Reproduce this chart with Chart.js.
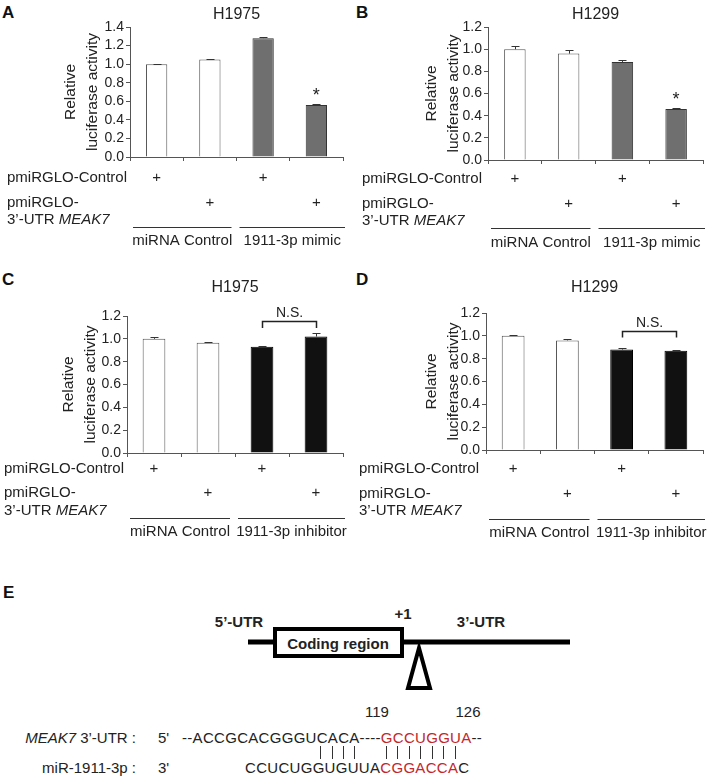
<!DOCTYPE html>
<html>
<head>
<meta charset="utf-8">
<script src="https://cdn.jsdelivr.net/npm/chart.js@4.4.1/dist/chart.umd.min.js"></script>
<style>
  html, body { margin: 0; padding: 0; background: #fff; }
  body { position: relative; width: 713px; height: 778px; overflow: hidden;
         font-family: "Liberation Sans", Arial, Helvetica, sans-serif; color: #222; }
  canvas { position: absolute; }
  .t { position: absolute; white-space: nowrap; line-height: 1; font-size: 15px; transform: translateY(-50%); }
  .c { transform: translate(-50%, -50%); }
  .r { transform: translate(-100%, -50%); }
  .b { font-weight: bold; }
  .letter { font-size: 17px; font-weight: bold; color: #111; }
  .red { color: #c3262b; }
  svg { position: absolute; left: 0; top: 0; }
</style>
</head>
<body>

<div class="t letter" style="left:2px; top:12px;">A</div>
<div class="t letter" style="left:356px; top:12px;">B</div>
<div class="t letter" style="left:2px; top:279px;">C</div>
<div class="t letter" style="left:356px; top:279px;">D</div>
<div class="t letter" style="left:3px; top:592px;">E</div>

<!-- panel E: gene diagram -->
<svg width="713" height="778">
  <line x1="248" y1="642" x2="570" y2="642" stroke="#000" stroke-width="5"/>
  <rect x="275" y="629" width="127" height="27" fill="#fff" stroke="#000" stroke-width="4"/>
  <polygon points="419,648 408,688 430,688" fill="#fff" stroke="#000" stroke-width="4" stroke-linejoin="miter"/>
  <g stroke="#333" stroke-width="1">
    <line x1="320.5" y1="746" x2="320.5" y2="759"/>
    <line x1="332.5" y1="746" x2="332.5" y2="759"/>
    <line x1="343.5" y1="746" x2="343.5" y2="759"/>
    <line x1="354.5" y1="746" x2="354.5" y2="759"/>
    <line x1="386.5" y1="746" x2="386.5" y2="759"/>
    <line x1="397.5" y1="746" x2="397.5" y2="759"/>
    <line x1="409.5" y1="746" x2="409.5" y2="759"/>
    <line x1="420.5" y1="746" x2="420.5" y2="759"/>
    <line x1="432.5" y1="746" x2="432.5" y2="759"/>
    <line x1="443.5" y1="746" x2="443.5" y2="759"/>
    <line x1="455.5" y1="746" x2="455.5" y2="759"/>
  </g>
</svg>
<div class="t c b" style="left:239px; top:621px;">5’-UTR</div>
<div class="t c b" style="left:403px; top:613px;">+1</div>
<div class="t c b" style="left:481px; top:621px;">3’-UTR</div>
<div class="t c b" style="left:338px; top:643px;">Coding region</div>
<div class="t c" style="left:377px; top:711px;">119</div>
<div class="t c" style="left:468px; top:711px;">126</div>
<div class="t r" style="left:136px; top:737px;"><i>MEAK7</i> 3’-UTR :</div>
<div class="t" style="left:158px; top:737px;">5'</div>
<div class="t" style="left:182px; top:737px; letter-spacing:0.3px;">--ACCGCACGGGUCACA----<span class="red">GCCUGGUA</span>--</div>
<div class="t r" style="left:136px; top:767px;">miR-1911-3p :</div>
<div class="t" style="left:158px; top:767px;">3'</div>
<div class="t" style="left:245px; top:767px; letter-spacing:0.3px;">CCUCUGGUGUUA<span class="red">CGGACCA</span>C</div>

<script>
// ---- data ----
const categories = ['1', '2', '3', '4'];
const controlPlus = [true, false, true, false];   // pmiRGLO-Control row
const utrPlus = [false, true, false, true];       // pmiRGLO-3'-UTR MEAK7 row
const mimicGroups = ['miRNA Control', '1911-3p mimic'];
const inhibitorGroups = ['miRNA Control', '1911-3p inhibitor'];

const h1975Mimic = [1.00, 1.05, 1.28, 0.56];
const h1975MimicErr = [0.004, 0.003, 0.01, 0.007];
const h1299Mimic = [1.00, 0.96, 0.885, 0.46];
const h1299MimicErr = [0.03, 0.03, 0.015, 0.005];
const h1975Inhib = [1.00, 0.965, 0.93, 1.02];
const h1975InhibErr = [0.02, 0.005, 0.005, 0.03];
const h1299Inhib = [1.00, 0.96, 0.88, 0.87];
const h1299InhibErr = [0.004, 0.008, 0.015, 0.01];

const yTitle = ['Relative', 'luciferase activity'];

const FONT = '"Liberation Sans", Arial, Helvetica, sans-serif';
Chart.defaults.font.family = FONT;
Chart.defaults.color = '#222';

// error bars, stars, brackets and the +/group rows under each chart
const annotPlugin = {
  id: 'annot',
  afterDraw(chart, args, o) {
    const ctx = chart.ctx;
    const area = chart.chartArea;
    const ys = chart.scales.y;
    const bars = chart.getDatasetMeta(0).data;
    const vals = chart.data.datasets[0].data;
    const ry = v => v - o.top;
    const rx = v => v - o.left;
    ctx.save();

    ctx.strokeStyle = '#333';
    ctx.lineWidth = 1;
    vals.forEach((v, i) => {
      const cx = Math.round(bars[i].x) + 0.5;
      const yTop = Math.round(ys.getPixelForValue(v + o.errors[i])) + 0.5;
      ctx.beginPath();
      ctx.moveTo(cx, ys.getPixelForValue(v));
      ctx.lineTo(cx, yTop);
      ctx.moveTo(cx - 4, yTop);
      ctx.lineTo(cx + 4, yTop);
      ctx.stroke();
    });

    ctx.fillStyle = '#222';
    if (o.star != null) {
      const i = o.star;
      ctx.font = '18px ' + FONT;
      ctx.textAlign = 'center';
      ctx.textBaseline = 'alphabetic';
      ctx.fillText('*', bars[i].x, ys.getPixelForValue(vals[i] + o.errors[i]) - 3);
    }
    if (o.bracket) {
      const bk = o.bracket;
      const x1 = Math.round(bars[bk.from].x) + 0.5;
      const x2 = Math.round(bars[bk.to].x) + 0.5;
      const yb = Math.round(ys.getPixelForValue(bk.y)) + 0.5;
      const yt = ys.getPixelForValue(bk.tick);
      ctx.strokeStyle = '#222';
      ctx.lineWidth = 1.5;
      ctx.beginPath();
      ctx.moveTo(x1, yt); ctx.lineTo(x1, yb); ctx.lineTo(x2, yb); ctx.lineTo(x2, yt);
      ctx.stroke();
      ctx.font = '14px ' + FONT;
      ctx.textAlign = 'center';
      ctx.textBaseline = 'middle';
      ctx.fillText(bk.text, (x1 + x2) / 2, yb - 8);
    }

    // + rows
    ctx.font = '15px ' + FONT;
    ctx.textAlign = 'center';
    ctx.textBaseline = 'middle';
    controlPlus.forEach((p, i) => { if (p) ctx.fillText('+', bars[i].x, ry(o.rows.plus1)); });
    utrPlus.forEach((p, i) => { if (p) ctx.fillText('+', bars[i].x, ry(o.rows.plus2)); });

    // row labels
    ctx.textAlign = 'left';
    ctx.fillText('pmiRGLO-Control', rx(o.labelX), ry(o.rows.plus1));
    ctx.fillText('pmiRGLO-', rx(o.labelX), ry(o.rows.plus2));
    const pre = '3’-UTR ';
    ctx.fillText(pre, rx(o.labelX), ry(o.rows.utr));
    const w = ctx.measureText(pre).width;
    ctx.font = 'italic 15px ' + FONT;
    ctx.fillText('MEAK7', rx(o.labelX) + w, ry(o.rows.utr));

    // group lines + labels
    const mid = (bars[1].x + bars[2].x) / 2;
    const segs = [[area.left + 3, mid - 5], [mid + 3, area.right + 2]];
    const ly = Math.round(ry(o.rows.line)) + 0.5;
    ctx.strokeStyle = '#333';
    ctx.lineWidth = 1.2;
    ctx.font = '15px ' + FONT;
    ctx.textAlign = 'center';
    segs.forEach((s, k) => {
      ctx.beginPath();
      ctx.moveTo(s[0], ly); ctx.lineTo(s[1], ly);
      ctx.stroke();
      ctx.fillText(o.groups[k], (s[0] + s[1]) / 2, ry(o.rows.group));
    });
    ctx.restore();
  }
};

function makePanel(p) {
  const cv = document.createElement('canvas');
  cv.width = p.w;
  cv.height = p.h;
  cv.style.left = p.x + 'px';
  cv.style.top = p.y + 'px';
  document.body.appendChild(cv);

  const titleLH = 15.5 * 1.4;
  const yTitleLeft = p.relX - titleLH / 2;

  new Chart(cv, {
    type: 'bar',
    data: {
      labels: categories,
      datasets: [{
        data: p.values,
        backgroundColor: p.fills,
        borderColor: p.borders,
        borderWidth: 1,
        barPercentage: p.barPct,
        categoryPercentage: 1
      }]
    },
    options: {
      responsive: false,
      animation: false,
      layout: { padding: { left: yTitleLeft - p.x, right: p.x + p.w - p.plot.r, top: 0, bottom: 0 } },
      plugins: {
        legend: { display: false },
        tooltip: { enabled: false },
        title: {
          display: true, text: p.title, fullSize: false, color: '#222',
          font: { size: 16, weight: 'normal', lineHeight: 1.2 },
          padding: { top: p.titleY - p.y - 9.6, bottom: p.plot.t - p.titleY - 9.6 }
        },
        annot: {
          left: p.x, top: p.y, errors: p.errors, star: p.star, bracket: p.bracket,
          rows: p.rows, labelX: p.labelX, groups: p.groups
        }
      },
      scales: {
        x: {
          ticks: { display: false },
          grid: { display: true, drawOnChartArea: false, drawTicks: true, tickLength: 4, color: '#555', offset: true },
          border: { display: true, color: '#555' },
          afterFit: s => { s.height = p.y + p.h - p.plot.b; }
        },
        y: {
          min: 0, max: p.yMax,
          ticks: { stepSize: 0.2, autoSkip: false, callback: v => v.toFixed(1), font: { size: 14 }, color: '#222', padding: 2 },
          grid: { drawOnChartArea: false, drawTicks: true, tickLength: 4, color: '#555' },
          border: { display: true, color: '#555' },
          title: { display: true, text: yTitle, color: '#222', padding: 0, font: { size: 15.5, lineHeight: 1.4 } },
          afterFit: s => { s.width = p.plot.l - yTitleLeft; }
        }
      }
    },
    plugins: [annotPlugin]
  });
}

const whiteFill = '#ffffff', greyFill = '#6f6f6f', blackFill = '#111111';

makePanel({
  x: 0, y: 0, w: 356, h: 252, plot: { l: 130, r: 343, t: 27, b: 157 }, titleY: 15, relX: 71,
  title: 'H1975', yMax: 1.4, values: h1975Mimic, errors: h1975MimicErr, star: 3,
  fills: [whiteFill, whiteFill, greyFill, greyFill], borders: ['#555', '#555', '#333', '#333'], barPct: 0.4,
  labelX: 7, rows: { plus1: 178, plus2: 203, utr: 220, line: 227, group: 241 }, groups: mimicGroups
});
makePanel({
  x: 356, y: 0, w: 357, h: 252, plot: { l: 488, r: 703, t: 27, b: 160 }, titleY: 15, relX: 432,
  title: 'H1299', yMax: 1.2, values: h1299Mimic, errors: h1299MimicErr, star: 3,
  fills: [whiteFill, whiteFill, greyFill, greyFill], borders: ['#555', '#555', '#333', '#333'], barPct: 0.4,
  labelX: 362, rows: { plus1: 179, plus2: 204, utr: 221, line: 228, group: 243 }, groups: mimicGroups
});
makePanel({
  x: 0, y: 262, w: 356, h: 280, plot: { l: 127, r: 343, t: 316, b: 453 }, titleY: 288, relX: 69,
  title: 'H1975', yMax: 1.2, values: h1975Inhib, errors: h1975InhibErr, star: null,
  bracket: { from: 2, to: 3, y: 1.16, tick: 1.095, text: 'N.S.' },
  fills: [whiteFill, whiteFill, blackFill, blackFill], borders: ['#555', '#555', '#000', '#000'], barPct: 0.42,
  labelX: 4, rows: { plus1: 469, plus2: 493, utr: 511, line: 518, group: 532 }, groups: inhibitorGroups
});
makePanel({
  x: 356, y: 262, w: 357, h: 280, plot: { l: 486, r: 703, t: 313, b: 450 }, titleY: 288, relX: 432,
  title: 'H1299', yMax: 1.2, values: h1299Inhib, errors: h1299InhibErr, star: null,
  bracket: { from: 2, to: 3, y: 1.045, tick: 0.985, text: 'N.S.' },
  fills: [whiteFill, whiteFill, blackFill, blackFill], borders: ['#555', '#555', '#000', '#000'], barPct: 0.42,
  labelX: 359, rows: { plus1: 469, plus2: 494, utr: 511, line: 519, group: 533 }, groups: inhibitorGroups
});
</script>
</body>
</html>
